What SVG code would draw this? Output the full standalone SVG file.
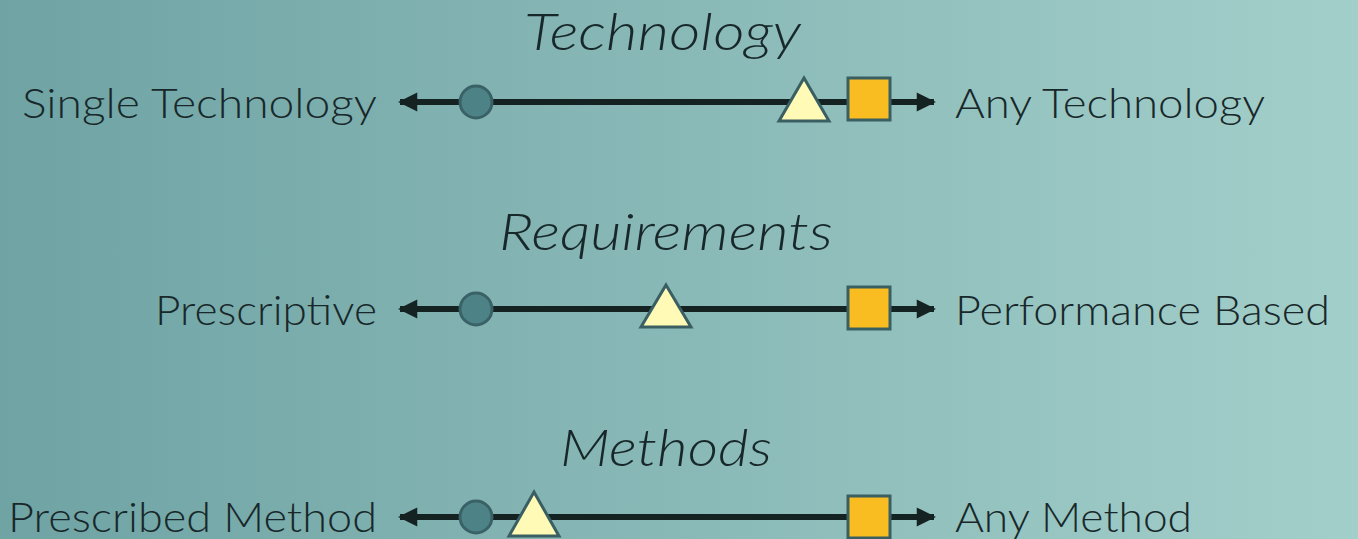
<svg xmlns="http://www.w3.org/2000/svg" width="1358" height="539" viewBox="0 0 1358 539">
<defs>
<linearGradient id="bg" x1="0" y1="0" x2="1" y2="0">
<stop offset="0" stop-color="#6fa3a4"/>
<stop offset="1" stop-color="#a3cfca"/>
</linearGradient>
<marker id="ah" viewBox="0 0 10 10" refX="9" refY="5" markerWidth="3.4" markerHeight="3.2" orient="auto-start-reverse" markerUnits="strokeWidth">
<path d="M0,0 L10,5 L0,10 Z" fill="#142222"/>
</marker>
<style>
.lbl{font-family:Lato,"Noto Sans",sans-serif;font-size:41px;font-weight:300;fill:#18282a}
.ttl{font-family:Lato,"Noto Sans",sans-serif;font-size:52px;font-weight:300;font-style:italic;fill:#18282a}
.axis{stroke:#142222;stroke-width:6;fill:none;marker-start:url(#ah);marker-end:url(#ah)}
.circ{fill:#4d8286;stroke:#3a6266;stroke-width:3}
.tri{fill:#fffab5;stroke:#3a5f63;stroke-width:3;stroke-linejoin:miter}
.sq{fill:#f9bd22;stroke:#3a5f63;stroke-width:3}
</style>
</defs>
<rect width="1358" height="539" fill="url(#bg)"/>
<g id="connectors">
<line class="axis" x1="400" y1="102" x2="934" y2="102"/>
<line class="axis" x1="400" y1="309" x2="934" y2="309"/>
<line class="axis" x1="400" y1="517" x2="934" y2="517"/>
</g>
<g id="technology">
<text class="ttl" x="524" y="50" textLength="277" lengthAdjust="spacingAndGlyphs">Technology</text>
<text class="lbl" x="22" y="118" textLength="355" lengthAdjust="spacingAndGlyphs">Single Technology</text>
<text class="lbl" x="955" y="118" textLength="310" lengthAdjust="spacingAndGlyphs">Any Technology</text>
<circle class="circ" cx="476" cy="102" r="16"/>
<polygon class="tri" points="804,78 829,121 779,121"/>
<rect class="sq" x="848" y="78" width="42" height="42"/>
</g>
<g id="requirements">
<text class="ttl" x="499" y="250" textLength="334" lengthAdjust="spacingAndGlyphs">Requirements</text>
<text class="lbl" x="155" y="325" textLength="222" lengthAdjust="spacingAndGlyphs">Prescriptive</text>
<text class="lbl" x="955" y="325" textLength="375" lengthAdjust="spacingAndGlyphs">Performance Based</text>
<circle class="circ" cx="476" cy="309" r="16"/>
<polygon class="tri" points="666,285 691,327 641,327"/>
<rect class="sq" x="848" y="287" width="42" height="42"/>
</g>
<g id="methods">
<text class="ttl" x="560" y="466" textLength="212" lengthAdjust="spacingAndGlyphs">Methods</text>
<text class="lbl" x="8" y="532" textLength="369" lengthAdjust="spacingAndGlyphs">Prescribed Method</text>
<text class="lbl" x="955" y="532" textLength="237" lengthAdjust="spacingAndGlyphs">Any Method</text>
<circle class="circ" cx="476" cy="517" r="16"/>
<polygon class="tri" points="534,492 559,536 509,536"/>
<rect class="sq" x="848" y="496" width="42" height="42"/>
</g>
</svg>
